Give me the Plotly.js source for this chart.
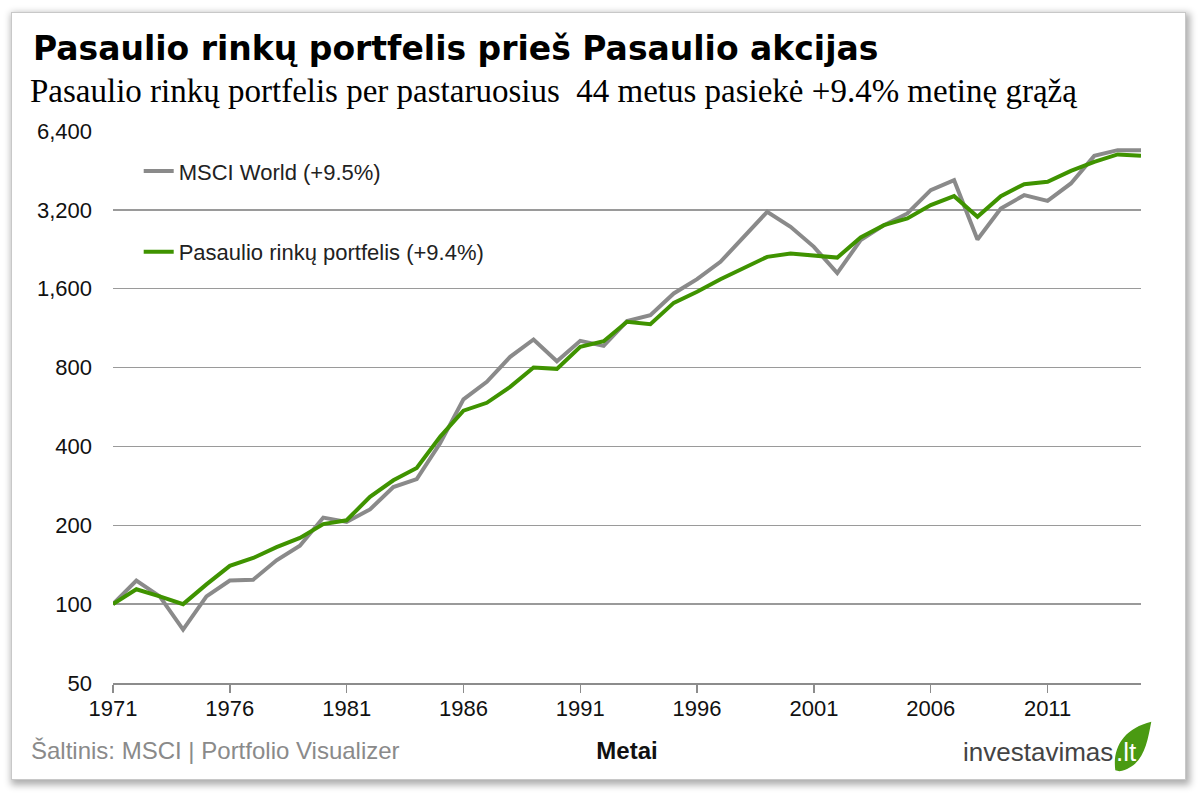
<!DOCTYPE html>
<html>
<head>
<meta charset="utf-8">
<script src="https://cdn.plot.ly/plotly-3.0.1.min.js"></script>
<style>
  body { margin: 0; background: #ffffff; }
  #card {
    position: absolute; left: 11px; top: 12px; width: 1173px; height: 766px;
    background: #ffffff; border: 1px solid #c8c8c8;
    box-shadow: 2px 3px 7px 2px rgba(0,0,0,0.32);
  }
  #chart { position: absolute; left: 0; top: 0; width: 1200px; height: 793px; }
</style>
</head>
<body>
<div id="card"></div>
<div id="chart"></div>
<script>
// years 1971..2015, index level starting at 100
const years = [1971,1972,1973,1974,1975,1976,1977,1978,1979,1980,
  1981,1982,1983,1984,1985,1986,1987,1988,1989,1990,
  1991,1992,1993,1994,1995,1996,1997,1998,1999,2000,
  2001,2002,2003,2004,2005,2006,2007,2008,2009,2010,
  2011,2012,2013,2014,2015];

const msciWorld = [100,123,107,80,107,123,124,147,167,214,
  206,230,280,300,411,605,706,879,1024,846,
  1012,968,1203,1268,1535,1740,2026,2525,3145,2757,
  2312,1835,2453,2797,3100,3805,4155,2467,3240,3641,
  3464,4036,5144,5408,5408];

const marketPortfolio = [100,114,107,100,119,140,150,165,179,202,
  209,257,297,331,435,548,587,675,800,791,
  960,1009,1196,1172,1413,1557,1740,1912,2117,2181,
  2149,2103,2511,2797,2967,3336,3610,3009,3610,4011,
  4093,4509,4880,5208,5144];

const seriesNames = ['MSCI World (+9.5%)', 'Pasaulio rinkų portfelis (+9.4%)'];
const seriesColors = ['#8a8a8a', '#3f9300'];

const yTicks = [50,100,200,400,800,1600,3200,6400];
const yTickText = ['50','100','200','400','800','1,600','3,200','6,400'];

const sans = 'Liberation Sans, Arial, sans-serif';

let data = [
  {
    x: years, y: msciWorld, type: 'scatter', mode: 'lines',
    name: seriesNames[0], legendgroup: 'a',
    line: {color: seriesColors[0], width: 4}
  },
  {
    x: years, y: marketPortfolio, type: 'scatter', mode: 'lines',
    name: seriesNames[1], legendgroup: 'b',
    line: {color: seriesColors[1], width: 4}
  }
];

let layout = {
  width: 1200, height: 793,
  margin: {l: 113, r: 59, t: 131, b: 110},
  paper_bgcolor: 'rgba(0,0,0,0)',
  plot_bgcolor: 'rgba(0,0,0,0)',
  font: {family: sans, size: 22, color: '#111'},
  showlegend: true,
  legend: {
    x: 0.025, y: 0.965, xanchor: 'left', yanchor: 'top',
    bgcolor: 'rgba(0,0,0,0)', tracegroupgap: 49, traceorder: 'grouped',
    font: {family: sans, size: 22, color: '#222'}
  },
  xaxis: {
    range: [1971, 2015], tick0: 1971, dtick: 5,
    showgrid: false, zeroline: false,
    showline: true, linecolor: '#8c8c8c', linewidth: 1.5,
    ticks: 'outside', ticklen: 8, tickcolor: '#8c8c8c', tickwidth: 1.5,
    ticklabelstandoff: -3,
    tickfont: {family: sans, size: 22, color: '#111'},
    title: {text: '<b>Metai</b>', standoff: 22, font: {family: sans, size: 24, color: '#111'}}
  },
  yaxis: {
    type: 'log', range: [Math.log10(50), Math.log10(6400)],
    tickvals: yTicks, ticktext: yTickText,
    showgrid: true, gridcolor: '#9a9a9a', gridwidth: 1.5,
    zeroline: false, showline: false, ticks: '',
    ticklabelstandoff: 20,
    tickfont: {family: sans, size: 22, color: '#111'}
  },
  annotations: [
    {
      xref: 'paper', yref: 'paper', x: -0.08, y: 1.150, xanchor: 'left', yanchor: 'middle',
      showarrow: false, align: 'left',
      text: '<b>Pasaulio rinkų portfelis prieš Pasaulio akcijas</b>',
      font: {family: 'DejaVu Sans, sans-serif', size: 33, color: '#000'}
    },
    {
      xref: 'paper', yref: 'paper', x: -0.083, y: 1.072, xanchor: 'left', yanchor: 'middle',
      showarrow: false, align: 'left',
      text: 'Pasaulio rinkų portfelis per pastaruosius  44 metus pasiekė +9.4% metinę grąžą',
      font: {family: 'Liberation Serif, Times New Roman, serif', size: 33, color: '#000'}
    },
    {
      xref: 'paper', yref: 'paper', x: -0.082, y: -0.122, xanchor: 'left', yanchor: 'middle',
      showarrow: false, align: 'left',
      text: 'Šaltinis: MSCI | Portfolio Visualizer',
      font: {family: sans, size: 24, color: '#8a8a8a'}
    },
    {
      xref: 'paper', yref: 'paper', x: 0.975, y: -0.125, xanchor: 'right', yanchor: 'middle',
      showarrow: false,
      text: 'investavimas',
      font: {family: sans, size: 26, color: '#444'}
    },
    {
      xref: 'paper', yref: 'paper', x: 0.974, y: -0.125, xanchor: 'left', yanchor: 'middle',
      showarrow: false,
      text: '.lt',
      font: {family: sans, size: 26, color: '#ffffff'}
    }
  ],
  shapes: [
    // leaf behind ".lt"
    {
      type: 'path', xref: 'paper', yref: 'paper', layer: 'below',
      path: 'M 0.975 -0.158 C 0.972 -0.115, 0.984 -0.082, 1.010 -0.070 C 1.006 -0.110, 1.002 -0.152, 0.979 -0.160 Z',
      fillcolor: '#4a9a12', line: {width: 0}
    }
  ]
};

Plotly.newPlot('chart', data, layout, {displayModeBar: false, staticPlot: true});
</script>
</body>
</html>
